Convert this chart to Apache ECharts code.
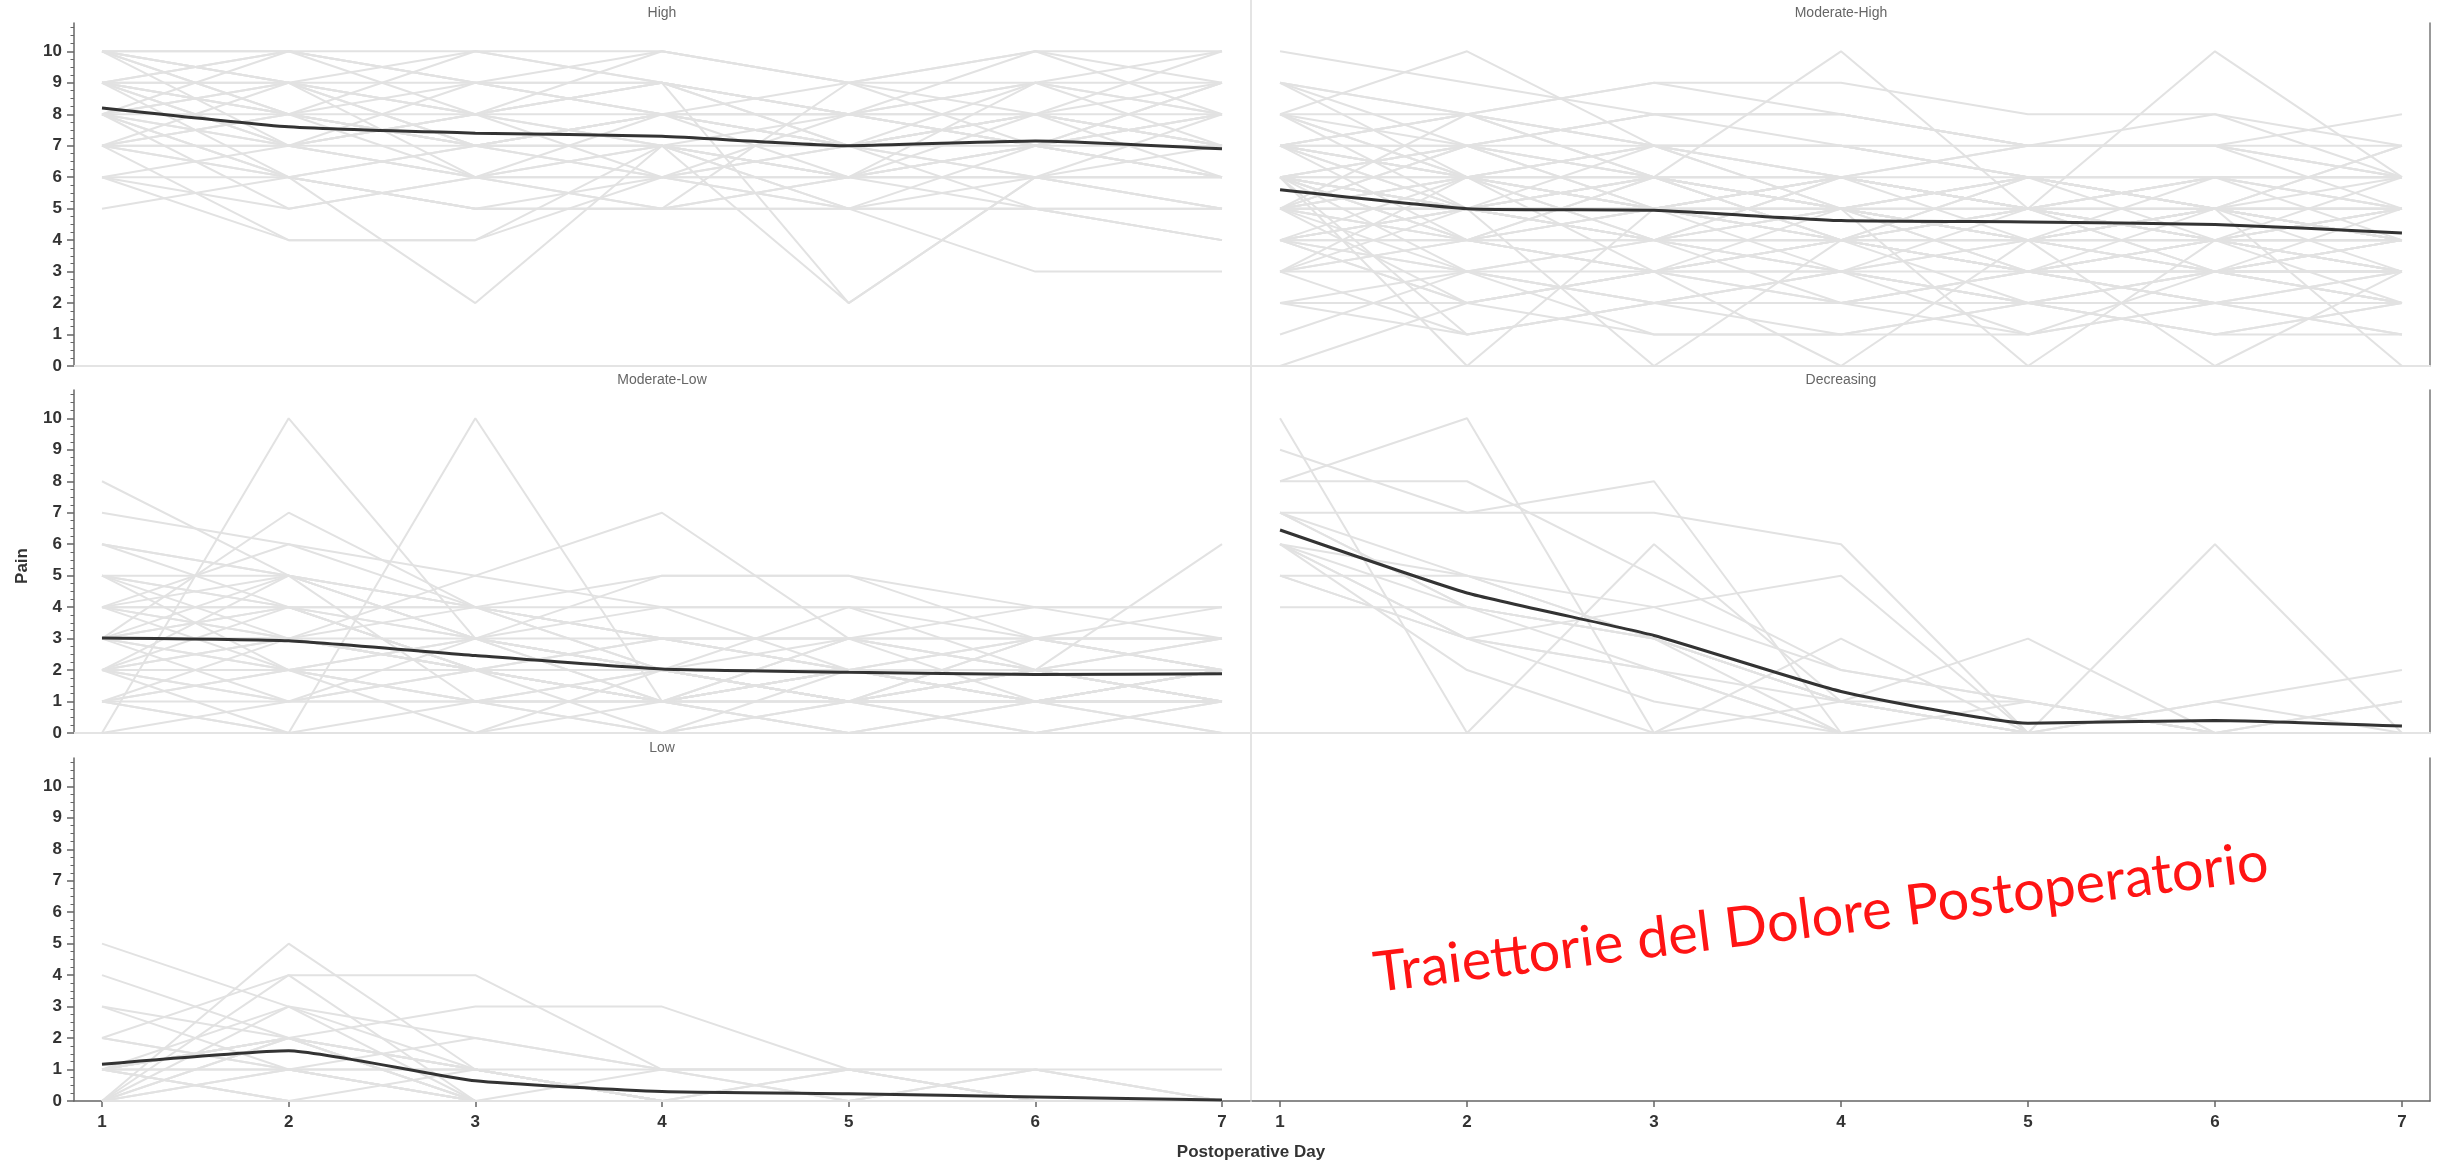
<!DOCTYPE html>
<html>
<head>
<meta charset="utf-8">
<title>Traiettorie del Dolore Postoperatorio</title>
<script src="https://cdn.jsdelivr.net/npm/echarts@6/dist/echarts.min.js"></script>
<style>
  html, body { margin: 0; padding: 0; background: #ffffff; }
  #chart { width: 2443px; height: 1165px; }
</style>
</head>
<body>
<div id="chart"></div>
<script>
// ---------------- DATA ----------------
const days = [1, 2, 3, 4, 5, 6, 7];
const yTicks = [0, 1, 2, 3, 4, 5, 6, 7, 8, 9, 10];
const panelTitles = ['High', 'Moderate-High', 'Moderate-Low', 'Decreasing', 'Low', ''];

// mean trajectories (dark lines)
const highMean = [8.2, 7.6, 7.4, 7.3, 7.0, 7.15, 6.9];
const modHighMean = [5.6, 5.0, 4.95, 4.62, 4.58, 4.5, 4.23];
const modLowMean = [3.02, 2.93, 2.46, 2.03, 1.93, 1.86, 1.88];
const decreasingMean = [6.45, 4.45, 3.1, 1.32, 0.31, 0.4, 0.22];
const lowMean = [1.17, 1.6, 0.64, 0.3, 0.23, 0.13, 0.03];

// individual patient trajectories (grey lines)
const highPatients = [
  [10,10,10,10,9,10,10], [10,9,8,10,9,9,10], [9,10,9,8,8,8,9], [9,8,10,9,8,7,8],
  [8,9,7,8,7,9,8], [10,8,7,7,6,8,7], [9,7,8,6,7,6,6], [8,7,6,7,5,7,8],
  [7,6,2,7,6,6,5], [7,4,4,6,7,8,6], [6,4,4,7,5,6,5], [8,5,6,5,9,7,6],
  [5,6,7,8,7,5,4], [9,8,7,7,2,6,7], [8,9,8,9,2,6,8], [10,9,9,8,9,10,8],
  [7,8,9,10,9,8,7], [6,7,8,9,8,7,6], [9,9,8,8,7,7,8], [8,8,7,7,7,8,7],
  [7,7,6,6,6,7,6], [10,10,9,9,8,9,9], [8,6,5,6,5,5,5], [6,6,5,5,5,5,4],
  [9,8,7,6,5,3,3], [7,7,7,6,6,6,6], [9,6,5,5,6,6,6], [8,7,6,5,5,5,4],
  [10,8,6,6,8,8,8], [6,5,6,7,6,5,5], [9,9,10,9,8,7,7], [7,8,8,7,8,9,8],
  [8,10,9,8,7,8,10], [10,9,7,8,8,10,9], [9,7,9,9,7,8,7], [7,6,5,5,6,7,6],
  [9,10,8,7,6,7,9], [8,6,7,8,6,9,7], [10,7,8,9,7,6,5], [7,9,6,8,8,7,9]
];
const modHighPatients = [
  [10,9,8,8,7,7,6], [9,8,9,9,8,8,7], [8,10,7,6,5,6,5], [7,8,6,10,5,4,5],
  [6,7,8,8,7,7,6], [7,6,7,6,7,7,8], [5,5,4,4,5,10,6], [9,7,6,5,5,4,4],
  [8,7,6,6,5,5,4], [6,5,5,4,4,4,3], [6,6,5,5,4,5,4], [5,5,4,5,4,4,5],
  [5,4,5,4,5,4,4], [4,5,4,4,3,4,4], [4,3,4,3,4,3,3], [3,4,3,4,3,3,2],
  [6,4,6,5,6,5,5], [7,5,5,6,5,6,6], [8,6,7,7,6,5,6], [5,7,6,5,4,5,3],
  [6,3,4,2,3,4,2], [4,2,3,4,2,3,3], [2,3,2,3,2,2,1], [3,1,2,1,2,1,2],
  [7,4,3,3,2,3,2], [5,6,3,0,4,3,4], [6,0,5,5,3,2,3], [4,5,0,4,5,6,5],
  [5,4,6,5,0,4,3], [3,5,4,3,4,0,3], [6,5,4,5,6,5,0], [8,5,5,4,4,3,3],
  [7,6,5,6,5,4,4], [9,6,7,5,5,5,5], [5,5,5,5,5,5,5], [6,6,6,6,6,6,6],
  [4,4,4,4,4,4,4], [7,7,7,7,6,6,6], [3,3,3,3,3,3,3], [5,3,1,1,1,2,2],
  [4,2,1,1,2,3,4], [2,2,3,2,3,2,2], [6,7,8,7,6,5,7], [7,8,7,6,7,7,5],
  [7,8,9,8,7,7,6], [6,4,4,3,2,2,3], [5,2,3,4,3,3,2], [4,6,5,3,5,4,3],
  [3,4,5,6,4,5,4], [6,5,7,5,4,6,5], [5,6,4,6,5,3,4], [7,5,6,4,6,5,4],
  [4,3,2,3,1,2,1], [6,4,3,2,2,1,2], [5,5,6,4,3,4,6], [8,6,6,5,6,4,3],
  [9,8,7,7,6,6,6], [4,4,5,5,4,5,5], [5,7,5,5,6,5,4], [3,6,4,5,3,4,3],
  [6,1,2,2,3,2,2], [2,1,2,3,2,1,1], [7,6,5,4,3,5,4], [5,4,3,5,4,3,5],
  [6,5,6,6,5,5,5], [4,5,6,4,5,6,4], [1,3,2,2,1,3,2], [0,2,3,4,3,2,2],
  [5,8,6,5,4,5,7], [6,7,5,6,5,4,5], [7,7,8,8,7,7,7], [8,8,7,7,7,8,6],
  [6,5,4,6,5,4,5], [5,6,5,4,6,5,4], [4,5,5,6,5,3,4], [7,6,6,5,4,5,5]
];
const modLowPatients = [
  [0,10,3,2,2,1,2], [2,0,10,1,2,1,1], [3,7,4,2,3,2,2], [8,5,3,2,1,2,1],
  [7,6,5,4,4,4,4], [6,5,4,3,2,2,3], [5,5,4,5,5,3,3], [4,5,3,4,2,3,2],
  [4,4,4,4,4,3,4], [2,3,5,7,3,1,2], [3,4,2,1,3,2,2], [3,3,3,3,3,3,3],
  [2,2,2,2,2,2,2], [1,1,1,1,1,1,1], [5,4,3,2,2,2,1], [4,2,2,1,1,1,1],
  [3,2,1,2,1,2,2], [2,3,2,2,1,1,2], [1,2,1,0,1,2,1], [0,1,2,1,2,1,2],
  [4,6,4,3,2,3,2], [6,4,2,2,1,1,0], [5,3,2,1,2,1,1], [2,4,2,1,0,1,1],
  [3,2,0,2,1,2,3], [4,3,2,0,2,2,1], [2,1,3,2,4,2,2], [3,5,4,3,2,2,1],
  [1,0,1,2,1,0,1], [2,1,1,1,3,4,3], [3,4,3,2,2,2,6], [5,2,3,5,5,4,4],
  [4,3,4,2,1,3,3], [2,2,3,1,1,1,0], [1,3,2,3,3,2,2], [3,1,2,2,1,3,2],
  [6,5,3,1,2,2,1], [4,4,2,3,2,1,2], [2,5,1,1,0,1,1], [5,4,4,3,3,3,2],
  [1,2,2,2,1,0,1], [3,3,2,1,2,1,1], [2,2,1,0,1,1,2], [1,0,0,1,0,0,0]
];
const decreasingPatients = [
  [8,10,0,3,0,0,0], [10,0,6,1,0,0,0], [9,7,8,0,0,0,0], [8,8,5,2,1,0,0],
  [7,7,7,6,0,0,0], [7,5,3,1,0,0,0], [6,4,2,1,1,0,0], [6,3,2,0,0,1,0],
  [5,5,4,2,1,0,1], [4,4,3,1,0,0,0], [7,4,3,0,1,0,0], [6,3,1,0,0,0,0],
  [5,3,4,5,0,0,0], [6,2,0,1,3,0,0], [5,3,2,0,0,6,0], [7,4,3,1,0,1,2],
  [6,5,3,1,0,0,1]
];
const lowPatients = [
  [5,3,0,0,0,0,0], [0,5,1,0,0,0,0], [4,2,1,1,0,0,0], [2,4,4,1,1,0,0],
  [0,4,0,0,0,0,0], [1,2,3,3,1,1,0], [1,3,1,0,0,0,0], [1,2,1,0,0,0,0],
  [3,1,0,0,0,0,0], [1,0,1,0,1,0,0], [1,1,2,1,1,1,1], [0,2,1,0,0,1,0],
  [2,1,0,0,0,0,0], [0,1,0,0,0,0,0], [1,0,0,1,0,0,0], [0,3,2,1,1,0,0],
  [2,1,1,0,0,0,0], [1,2,0,0,0,0,0], [0,0,0,0,0,0,0], [1,1,0,0,0,0,0],
  [0,2,0,0,0,0,0], [3,2,1,0,0,0,0], [1,0,0,0,0,1,0], [0,1,1,0,0,0,0],
  [1,2,0,0,1,0,0]
];

const panelPatients = [highPatients, modHighPatients, modLowPatients, decreasingPatients, lowPatients, []];
const panelMeans = [highMean, modHighMean, modLowMean, decreasingMean, lowMean, null];

// ---------------- LAYOUT ----------------
const rowTops = [23, 390, 758];
const rowHeight = 343;
const colLefts = [74, 1252];
const colWidths = [1176, 1178];
const xMin = 0.85, xMax = 7.15, yMax = 10.9;
const darkAxis = '#666666';
const lightAxis = '#e4e4e4';
const labelFont = "'Liberation Sans', Arial, sans-serif";

const grids = [], xAxes = [], yAxes = [], series = [], graphics = [];

for (let i = 0; i < 6; i++) {
  const row = Math.floor(i / 2), col = i % 2;
  const bottomRow = row === 2;
  grids.push({ left: colLefts[col], top: rowTops[row], width: colWidths[col], height: rowHeight });
  xAxes.push({
    type: 'value', gridIndex: i, min: xMin, max: xMax,
    axisLine: { show: true, onZero: false, lineStyle: { color: bottomRow ? darkAxis : lightAxis, width: bottomRow ? 1.5 : 2 } },
    axisTick: { show: bottomRow, customValues: days, length: 6, lineStyle: { color: darkAxis, width: 1.5 } },
    axisLabel: { show: bottomRow, customValues: days, color: '#333', fontWeight: 'bold', fontSize: 17, fontFamily: labelFont, margin: 13 },
    splitLine: { show: false }
  });
  if (col === 0) {
    yAxes.push({
      type: 'value', gridIndex: i, min: 0, max: yMax, interval: 1, position: 'left',
      axisLine: { show: true, lineStyle: { color: darkAxis, width: 1.5 } },
      axisTick: { show: true, customValues: yTicks, length: 7, lineStyle: { color: darkAxis, width: 1.5 } },
      minorTick: { show: true, splitNumber: 4, length: 3.5, lineStyle: { color: darkAxis, width: 1 } },
      axisLabel: { customValues: yTicks, color: '#333', fontWeight: 'bold', fontSize: 17, fontFamily: labelFont, margin: 12 },
      splitLine: { show: false }, minorSplitLine: { show: false }
    });
  } else {
    yAxes.push({
      type: 'value', gridIndex: i, min: 0, max: yMax, position: 'right',
      axisLine: { show: true, lineStyle: { color: '#777777', width: 1.5 } },
      axisTick: { show: false }, axisLabel: { show: false }, splitLine: { show: false }
    });
  }

  panelPatients[i].forEach((p, k) => {
    series.push({
      type: 'line', name: panelTitles[i] + ' ' + (k + 1), xAxisIndex: i, yAxisIndex: i,
      data: days.map((d, j) => [d, p[j]]),
      symbol: 'none', silent: true, z: 2,
      lineStyle: { color: '#e2e2e2', width: 2 }
    });
  });
  if (panelMeans[i]) {
    series.push({
      type: 'line', name: panelTitles[i] + ' mean', xAxisIndex: i, yAxisIndex: i,
      data: days.map((d, j) => [d, panelMeans[i][j]]),
      symbol: 'none', silent: true, z: 5, smooth: 0.15,
      lineStyle: { color: '#333333', width: 3 }
    });
  }

  if (panelTitles[i]) {
    graphics.push({
      type: 'text', x: colLefts[col] + colWidths[col] / 2, y: rowTops[row] - 10, silent: true,
      style: { text: panelTitles[i], fill: '#666', font: "14px 'Liberation Sans Narrow', 'Liberation Sans', sans-serif",
               align: 'center', verticalAlign: 'middle', textAlign: 'center', textVerticalAlign: 'middle' }
    });
  }
}

// vertical divider between the two columns
graphics.push({ type: 'line', silent: true, z: 0,
  shape: { x1: 1251, y1: 0, x2: 1251, y2: 1101 }, style: { stroke: lightAxis, lineWidth: 2 } });

// axis names
graphics.push({ type: 'text', x: 22, y: 566, rotation: Math.PI / 2, silent: true,
  style: { text: 'Pain', fill: '#333', font: "bold 17px 'Liberation Sans', Arial, sans-serif",
           align: 'center', verticalAlign: 'middle', textAlign: 'center', textVerticalAlign: 'middle' } });
graphics.push({ type: 'text', x: 1251, y: 1152, silent: true,
  style: { text: 'Postoperative Day', fill: '#333', font: "bold 17px 'Liberation Sans', Arial, sans-serif",
           align: 'center', verticalAlign: 'middle', textAlign: 'center', textVerticalAlign: 'middle' } });

// red overlay caption
graphics.push({ type: 'text', x: 1821, y: 918, rotation: 0.125, silent: true, z: 10,
  style: { text: 'Traiettorie del Dolore Postoperatorio', fill: '#ff1414', font: "56px Lato, 'Noto Sans', sans-serif",
           align: 'center', verticalAlign: 'middle', textAlign: 'center', textVerticalAlign: 'middle' } });

const chart = echarts.init(document.getElementById('chart'), null, { renderer: 'canvas' });
chart.setOption({
  backgroundColor: '#ffffff',
  animation: false,
  grid: grids,
  xAxis: xAxes,
  yAxis: yAxes,
  series: series,
  graphic: graphics
});
</script>
</body>
</html>
